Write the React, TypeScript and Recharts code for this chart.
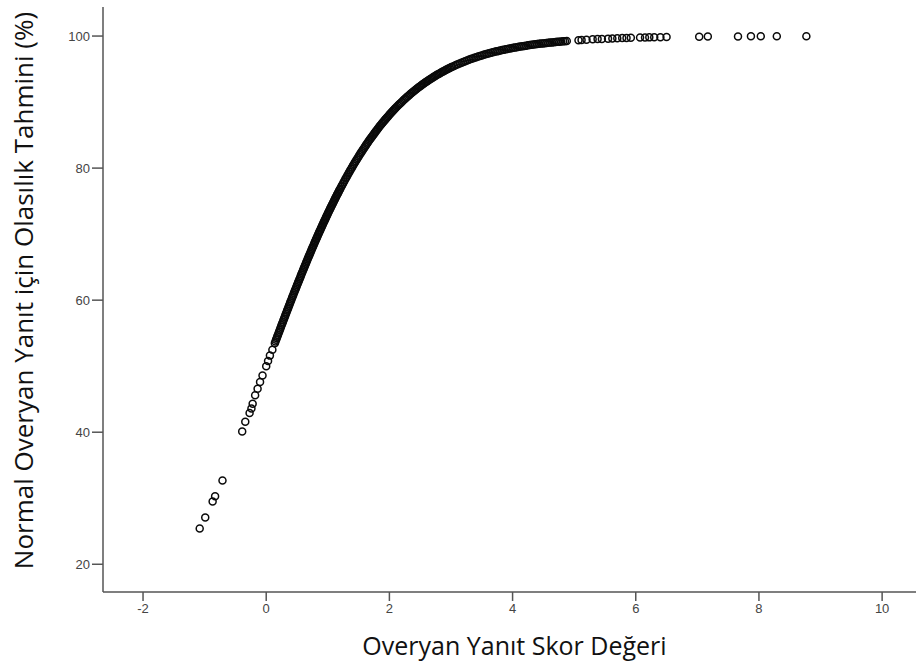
import { ScatterChart, Scatter, XAxis, YAxis, Label } from "recharts";

// score vs. predicted probability (%)
const lowTail: [number, number][] = [
  [-1.08, 25.4], [-0.99, 27.1], [-0.87, 29.5], [-0.83, 30.3], [-0.71, 32.7],
  [-0.39, 40.1], [-0.34, 41.6], [-0.27, 42.9], [-0.24, 43.6], [-0.22, 44.3],
  [-0.18, 45.6], [-0.14, 46.6], [-0.1, 47.6], [-0.06, 48.6], [0.0, 50.0],
  [0.03, 50.8], [0.06, 51.6], [0.1, 52.5],
];

// the packed band from ~0.1 to ~4.9
const denseCurve: [number, number][] = [
  [0.14, 53.49], [0.15, 53.74], [0.16, 53.99], [0.17, 54.24], [0.18, 54.49],
  [0.19, 54.74], [0.2, 54.98], [0.21, 55.23], [0.22, 55.48], [0.23, 55.72],
  [0.24, 55.97], [0.25, 56.22], [0.26, 56.46], [0.27, 56.71], [0.28, 56.95],
  [0.29, 57.19], [0.3, 57.44], [0.31, 57.69], [0.32, 57.93], [0.33, 58.17],
  [0.34, 58.42], [0.35, 58.66], [0.36, 58.9], [0.37, 59.14], [0.38, 59.39],
  [0.39, 59.63], [0.4, 59.87], [0.41, 60.11], [0.42, 60.35], [0.43, 60.59],
  [0.44, 60.83], [0.45, 61.07], [0.46, 61.3], [0.47, 61.54], [0.48, 61.78],
  [0.49, 62.01], [0.5, 62.25], [0.51, 62.48], [0.52, 62.71], [0.53, 62.95],
  [0.54, 63.18], [0.55, 63.41], [0.56, 63.64], [0.57, 63.88], [0.58, 64.11],
  [0.59, 64.34], [0.6, 64.57], [0.61, 64.8], [0.62, 65.02], [0.63, 65.25],
  [0.64, 65.48], [0.65, 65.7], [0.66, 65.93], [0.67, 66.15], [0.68, 66.37],
  [0.69, 66.6], [0.7, 66.82], [0.71, 67.04], [0.72, 67.26], [0.73, 67.48],
  [0.74, 67.7], [0.75, 67.92], [0.76, 68.14], [0.77, 68.36], [0.78, 68.57],
  [0.79, 68.79], [0.8, 69.0], [0.81, 69.21], [0.82, 69.42], [0.83, 69.64],
  [0.84, 69.85], [0.85, 70.06], [0.86, 70.27], [0.87, 70.48], [0.88, 70.68],
  [0.89, 70.89], [0.9, 71.09], [0.91, 71.3], [0.92, 71.5], [0.93, 71.71],
  [0.94, 71.91], [0.95, 72.11], [0.96, 72.31], [0.97, 72.51], [0.98, 72.71],
  [0.99, 72.91], [1.0, 73.11], [1.01, 73.31], [1.02, 73.5], [1.03, 73.7],
  [1.04, 73.89], [1.05, 74.08], [1.06, 74.27], [1.07, 74.46], [1.08, 74.65],
  [1.09, 74.84], [1.1, 75.03], [1.11, 75.22], [1.12, 75.4], [1.13, 75.59],
  [1.14, 75.77], [1.15, 75.95], [1.16, 76.13], [1.17, 76.32], [1.18, 76.5],
  [1.19, 76.68], [1.2, 76.85], [1.215, 77.12], [1.23, 77.38], [1.245, 77.64],
  [1.26, 77.9], [1.275, 78.16], [1.29, 78.42], [1.305, 78.67], [1.32, 78.92],
  [1.335, 79.17], [1.35, 79.41], [1.365, 79.66], [1.38, 79.9], [1.395, 80.14],
  [1.41, 80.38], [1.425, 80.62], [1.44, 80.85], [1.455, 81.08], [1.47, 81.31],
  [1.485, 81.54], [1.5, 81.76], [1.515, 81.98], [1.53, 82.2], [1.545, 82.42],
  [1.56, 82.64], [1.575, 82.85], [1.59, 83.06], [1.605, 83.27], [1.62, 83.48],
  [1.635, 83.69], [1.65, 83.89], [1.665, 84.09], [1.68, 84.29], [1.695, 84.49],
  [1.71, 84.68], [1.725, 84.88], [1.74, 85.07], [1.755, 85.26], [1.77, 85.45],
  [1.785, 85.63], [1.8, 85.81], [1.815, 86.0], [1.83, 86.18], [1.845, 86.36],
  [1.86, 86.53], [1.875, 86.71], [1.89, 86.88], [1.905, 87.05], [1.92, 87.21],
  [1.935, 87.38], [1.95, 87.54], [1.965, 87.71], [1.98, 87.87], [1.995, 88.03],
  [2.01, 88.18], [2.025, 88.34], [2.04, 88.49], [2.055, 88.65], [2.07, 88.8],
  [2.085, 88.95], [2.1, 89.09], [2.12, 89.28], [2.14, 89.47], [2.16, 89.66],
  [2.18, 89.84], [2.2, 90.02], [2.22, 90.2], [2.24, 90.38], [2.26, 90.55],
  [2.28, 90.72], [2.3, 90.89], [2.32, 91.05], [2.34, 91.21], [2.36, 91.37],
  [2.38, 91.53], [2.4, 91.68], [2.42, 91.83], [2.44, 91.98], [2.46, 92.13],
  [2.48, 92.27], [2.5, 92.41], [2.52, 92.55], [2.54, 92.69], [2.56, 92.83],
  [2.58, 92.96], [2.6, 93.09], [2.62, 93.21], [2.64, 93.34], [2.66, 93.46],
  [2.68, 93.58], [2.7, 93.7], [2.72, 93.82], [2.74, 93.93], [2.76, 94.05],
  [2.78, 94.16], [2.8, 94.27], [2.82, 94.37], [2.84, 94.48], [2.86, 94.58],
  [2.88, 94.68], [2.9, 94.78], [2.92, 94.88], [2.94, 94.98], [2.96, 95.08],
  [2.98, 95.17], [3.0, 95.26], [3.02, 95.35], [3.05, 95.48], [3.08, 95.61],
  [3.11, 95.73], [3.14, 95.85], [3.17, 95.97], [3.2, 96.08], [3.23, 96.19],
  [3.26, 96.3], [3.29, 96.41], [3.32, 96.51], [3.35, 96.61], [3.38, 96.71],
  [3.41, 96.8], [3.44, 96.89], [3.47, 96.98], [3.5, 97.07], [3.53, 97.15],
  [3.56, 97.23], [3.59, 97.31], [3.62, 97.39], [3.65, 97.47], [3.68, 97.54],
  [3.71, 97.61], [3.74, 97.68], [3.77, 97.75], [3.8, 97.81], [3.83, 97.88],
  [3.86, 97.94], [3.89, 98.0], [3.92, 98.05], [3.95, 98.11], [3.98, 98.17],
  [4.01, 98.22], [4.04, 98.27], [4.07, 98.32], [4.1, 98.37], [4.13, 98.42],
  [4.16, 98.46], [4.19, 98.51], [4.22, 98.55], [4.25, 98.59], [4.28, 98.63],
  [4.31, 98.67], [4.34, 98.71], [4.37, 98.75], [4.4, 98.79], [4.43, 98.83],
  [4.46, 98.86], [4.49, 98.89], [4.52, 98.92], [4.55, 98.95], [4.58, 98.98],
  [4.61, 99.01], [4.64, 99.04], [4.67, 99.07], [4.7, 99.1], [4.73, 99.13],
  [4.76, 99.15], [4.79, 99.18], [4.82, 99.2], [4.85, 99.23], [4.88, 99.25],
];

const highTail: [number, number][] = [
  [5.07, 99.38], [5.12, 99.41], [5.2, 99.45], [5.3, 99.5], [5.38, 99.54],
  [5.45, 99.57], [5.55, 99.61], [5.62, 99.64], [5.7, 99.67], [5.78, 99.69],
  [5.85, 99.71], [5.92, 99.73], [6.07, 99.77], [6.15, 99.79], [6.22, 99.8],
  [6.3, 99.82], [6.4, 99.83], [6.5, 99.85], [7.03, 99.91], [7.17, 99.92],
  [7.66, 99.95], [7.87, 99.96], [8.03, 99.97], [8.29, 99.97], [8.77, 99.98],
];

const xTicks = [-2, 0, 2, 4, 6, 8, 10];
const yTicks = [20, 40, 60, 80, 100];
const xDomain: [number, number] = [-2.65, 10.55];
const yDomain: [number, number] = [15.8, 104.4];

const toPoints = (rows: [number, number][]) => rows.map(([x, y]) => ({ x, y }));

const axisColor = "#555";
const tickStyle = { fill: "#444", fontSize: 13, fontFamily: "Liberation Sans, Arial, sans-serif" };
const titleFont = "Open Sans, sans-serif";

function Ring(props: any) {
  const { cx, cy } = props;
  if (cx == null || cy == null) return null;
  return <circle cx={cx} cy={cy} r={3.5} fill="none" stroke="#0a0a0a" strokeWidth={1.5} />;
}

function YTitle({ viewBox }: any) {
  const cy = viewBox.y + viewBox.height / 2 - 9;
  return (
    <text
      x={23}
      y={cy}
      transform={`rotate(-90, 23, ${cy})`}
      textAnchor="middle"
      dominantBaseline="central"
      fontSize={26}
      fontFamily={titleFont}
      fill="#111"
    >
      Normal Overyan Yanıt için Olasılık Tahmini (%)
    </text>
  );
}

function XTitle({ viewBox }: any) {
  const cx = viewBox.x + viewBox.width / 2 + 5;
  return (
    <text x={cx} y={655} textAnchor="middle" fontSize={25} fontFamily={titleFont} fill="#111">
      Overyan Yanıt Skor Değeri
    </text>
  );
}

export default function App() {
  return (
    <div style={{ width: 916, height: 662, background: "#fff" }}>
      <style>{"body{margin:0}"}</style>
      <ScatterChart width={916} height={662} margin={{ top: 7, right: 0, bottom: 0, left: 0 }}>
        <XAxis
          xAxisId="top"
          orientation="top"
          type="number"
          dataKey="x"
          domain={xDomain}
          allowDataOverflow
          height={0}
          tick={false}
          tickLine={false}
          axisLine={{ stroke: axisColor, strokeWidth: 1.5 }}
        />
        <XAxis
          type="number"
          dataKey="x"
          domain={xDomain}
          allowDataOverflow
          ticks={xTicks}
          height={70}
          tick={tickStyle}
          tickSize={9}
          tickMargin={3}
          tickLine={{ stroke: axisColor, strokeWidth: 1.5 }}
          axisLine={{ stroke: axisColor, strokeWidth: 1.5 }}
        >
          <Label content={XTitle} />
        </XAxis>
        <YAxis
          type="number"
          dataKey="y"
          domain={yDomain}
          allowDataOverflow
          ticks={yTicks}
          width={103}
          tick={tickStyle}
          tickSize={11}
          tickMargin={2}
          tickLine={{ stroke: axisColor, strokeWidth: 1.5 }}
          axisLine={{ stroke: axisColor, strokeWidth: 1.5 }}
        >
          <Label content={YTitle} />
        </YAxis>
        <Scatter data={toPoints(lowTail)} shape={Ring} isAnimationActive={false} />
        <Scatter data={toPoints(denseCurve)} shape={Ring} isAnimationActive={false} />
        <Scatter data={toPoints(highTail)} shape={Ring} isAnimationActive={false} />
      </ScatterChart>
    </div>
  );
}
